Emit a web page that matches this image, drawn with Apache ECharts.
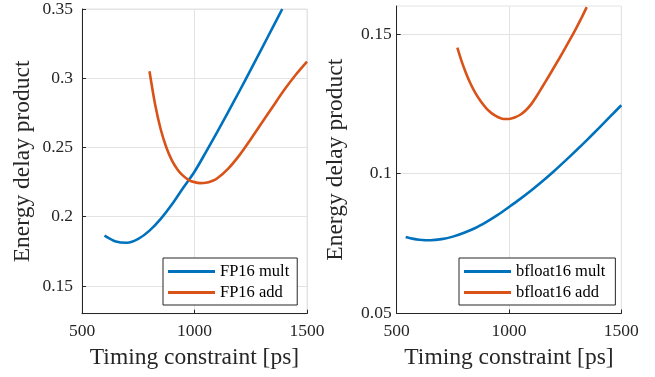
<!DOCTYPE html>
<html>
<head>
<meta charset="utf-8">
<script src="https://cdn.jsdelivr.net/npm/echarts@6/dist/echarts.min.js"></script>
<style>
  html, body { margin: 0; padding: 0; background: #ffffff; }
  #chart { width: 655px; height: 377px; }
</style>
</head>
<body>
<div id="chart"></div>
<script>
// Energy-delay product versus timing constraint, FP16 and bfloat16 units
const fp16MultX = [600, 650, 700, 750, 800, 850, 900, 950, 1000, 1050, 1100, 1150, 1200, 1250, 1300, 1350, 1390];
const fp16MultY = [0.1864, 0.1822, 0.1812, 0.1840, 0.1900, 0.1985, 0.2090, 0.2210, 0.2325, 0.2465, 0.2610, 0.2758, 0.2908, 0.3062, 0.3218, 0.3374, 0.3500];

const fp16AddX = [800, 825, 850, 875, 900, 925, 950, 975, 1000, 1025, 1050, 1075, 1100, 1150, 1200, 1250, 1300, 1350, 1400, 1450, 1500];
const fp16AddY = [0.3050, 0.2810, 0.2630, 0.2500, 0.2405, 0.2340, 0.2295, 0.2265, 0.2250, 0.2243, 0.2245, 0.2256, 0.2276, 0.2348, 0.2445, 0.2560, 0.2680, 0.2800, 0.2918, 0.3025, 0.3120];

const bf16MultX = [540, 575, 600, 650, 700, 750, 800, 850, 900, 950, 1000, 1050, 1100, 1150, 1200, 1250, 1300, 1350, 1400, 1450, 1500];
const bf16MultY = [0.0774, 0.0767, 0.0764, 0.0762, 0.0766, 0.0775, 0.0789, 0.0806, 0.0828, 0.0853, 0.0881, 0.0910, 0.0941, 0.0974, 0.1009, 0.1046, 0.1084, 0.1123, 0.1163, 0.1204, 0.1245];

const bf16AddX = [770, 790, 810, 830, 850, 875, 900, 925, 950, 975, 1000, 1025, 1050, 1075, 1100, 1125, 1150, 1175, 1200, 1225, 1250, 1275, 1300, 1325, 1346];
const bf16AddY = [0.1451, 0.1400, 0.1357, 0.1320, 0.1289, 0.1258, 0.1233, 0.1215, 0.1203, 0.1196, 0.1196, 0.1201, 0.1211, 0.1227, 0.1250, 0.1280, 0.1313, 0.1346, 0.1380, 0.1414, 0.1449, 0.1485, 0.1522, 0.1561, 0.1596];

const xTicks = [500, 1000, 1500];
const leftYTicks = [0.15, 0.2, 0.25, 0.3, 0.35];
const rightYTicks = [0.05, 0.1, 0.15];

const seriesNames = ['FP16 mult', 'FP16 add', 'bfloat16 mult', 'bfloat16 add'];
const xTitle = 'Timing constraint [ps]';
const yTitle = 'Energy delay product';

const BLUE = '#0072BD';
const ORANGE = '#D95319';
const INK = '#262626';
const GRIDC = '#e3e3e3';
const FONT = '"Liberation Serif", "Times New Roman", serif';

const pairs = (xs, ys) => xs.map((x, i) => [x, ys[i]]);

function xAxisFor(gridIndex) {
  return {
    type: 'value', gridIndex, min: 500, max: 1500, interval: 500,
    name: xTitle, nameLocation: 'middle', nameGap: 28,
    nameTextStyle: { fontFamily: FONT, fontSize: 23.5, color: INK },
    axisLine: { show: true, onZero: false, lineStyle: { color: INK, width: 1 } },
    axisTick: { show: true, inside: true, length: 4, lineStyle: { color: INK } },
    axisLabel: {
      fontFamily: FONT, fontSize: 17.5, color: INK, margin: 9, customValues: xTicks,
      formatter: v => String(v)
    },
    splitLine: { show: true, lineStyle: { color: GRIDC, width: 1 } }
  };
}

function yAxisFor(gridIndex, min, max, ticks, labelMargin, nameGap) {
  return {
    type: 'value', gridIndex, min, max,
    name: yTitle, nameLocation: 'middle', nameGap,
    nameTextStyle: { fontFamily: FONT, fontSize: 23.5, color: INK },
    axisLine: { show: true, onZero: false, lineStyle: { color: INK, width: 1 } },
    axisTick: { show: true, inside: true, length: 4, lineStyle: { color: INK }, customValues: ticks },
    axisLabel: { fontFamily: FONT, fontSize: 17.5, color: INK, margin: labelMargin, customValues: ticks },
    splitLine: { show: true, lineStyle: { color: GRIDC, width: 1 } }
  };
}

function lineSeries(name, color, xi, data) {
  return {
    name, type: 'line', xAxisIndex: xi, yAxisIndex: xi,
    data, smooth: 0.3, showSymbol: false, symbol: 'none',
    color, itemStyle: { color },
    lineStyle: { color, width: 2.6 },
    z: 3
  };
}

function legendFor(names, left, padRight) {
  return {
    data: names, orient: 'vertical', left, top: 258,
    icon: 'rect', itemWidth: 47, itemHeight: 3, itemGap: 4,
    padding: [5, padRight, 4, 5],
    borderColor: INK, borderWidth: 1, borderRadius: 0, backgroundColor: '#ffffff',
    textStyle: { fontFamily: FONT, fontSize: 16.5, color: '#000000', lineHeight: 16 }
  };
}

const chart = echarts.init(document.getElementById('chart'), null, { renderer: 'canvas' });
chart.setOption({
  animation: false,
  backgroundColor: '#ffffff',
  color: [BLUE, ORANGE, BLUE, ORANGE],
  grid: [
    { left: 82, top: 6, width: 225, height: 307.7, show: true, borderColor: GRIDC, borderWidth: 1, backgroundColor: 'transparent' },
    { left: 396.7, top: 6, width: 224.6, height: 307.5, show: true, borderColor: GRIDC, borderWidth: 1, backgroundColor: 'transparent' }
  ],
  xAxis: [xAxisFor(0), xAxisFor(1)],
  yAxis: [
    yAxisFor(0, 0.13, 0.35, leftYTicks, 9, 47),
    yAxisFor(1, 0.05, 0.16, rightYTicks, 5, 49)
  ],
  legend: [
    legendFor([seriesNames[0], seriesNames[1]], 163, 8),
    legendFor([seriesNames[2], seriesNames[3]], 459, 10)
  ],
  series: [
    lineSeries(seriesNames[0], BLUE, 0, pairs(fp16MultX, fp16MultY)),
    lineSeries(seriesNames[1], ORANGE, 0, pairs(fp16AddX, fp16AddY)),
    lineSeries(seriesNames[2], BLUE, 1, pairs(bf16MultX, bf16MultY)),
    lineSeries(seriesNames[3], ORANGE, 1, pairs(bf16AddX, bf16AddY))
  ]
});
</script>
</body>
</html>
